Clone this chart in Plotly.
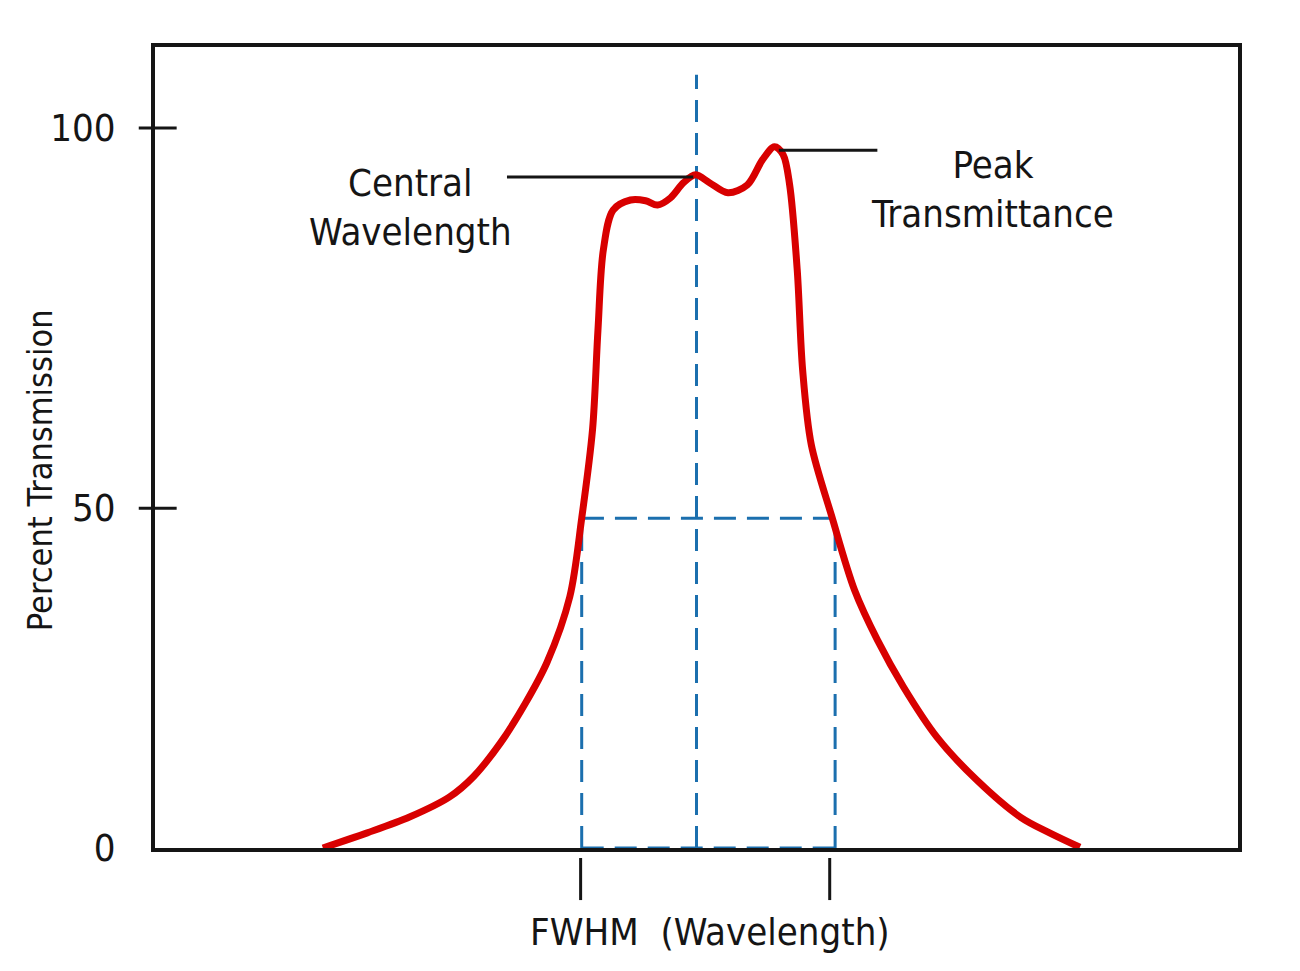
import plotly.graph_objects as go

# transmission curve (x: arbitrary wavelength units, y: percent)
wl = [15.5, 19.6, 23.5, 27.2, 29.4, 31.9, 34.2, 36.2, 38.3, 39.4, 40.4, 40.9, 41.4,
      42.3, 43.9, 45.3, 46.4, 47.6, 48.8, 49.9, 51.2, 52.9, 54.7, 56.1, 57.2, 58.0,
      58.6, 59.3, 59.8, 60.6, 62.5, 64.6, 66.7, 69.1, 72.2, 75.9, 79.9, 82.6, 85.4]
trans = [0.0, 2.1, 4.3, 7.1, 9.9, 14.6, 20.1, 25.8, 34.9, 45.8, 58.1, 71.9, 83.1,
         88.6, 90.0, 89.9, 89.3, 90.3, 92.4, 93.5, 92.4, 91.0, 92.1, 95.6, 97.4, 96.3,
         92.1, 80.3, 66.4, 56.0, 46.0, 35.8, 28.9, 22.4, 15.4, 9.4, 4.3, 2.1, 0.1]

fwhm_lo, fwhm_hi = 39.4, 62.8
half_max = 45.8
center_wl = 50.0
center_top = 107.4

y_ticks = [0, 47.2, 100]
y_ticktext = ["0", "50", "100"]

RED = "#d80000"
BLUE = "#1b6fae"
INK = "#151515"
FONT = "DejaVu Sans Condensed, Roboto, sans-serif"

dash = dict(color=BLUE, width=3, dash="22px,11px")

fig = go.Figure()

# FWHM box and central wavelength marker
fig.add_trace(go.Scatter(x=[fwhm_lo, fwhm_lo, fwhm_hi, fwhm_hi], y=[0, half_max, half_max, 0],
                         mode="lines", line=dash, hoverinfo="skip"))
fig.add_trace(go.Scatter(x=[fwhm_lo, fwhm_hi], y=[0, 0], mode="lines", line=dash, hoverinfo="skip"))
fig.add_trace(go.Scatter(x=[center_wl, center_wl], y=[0, center_top], mode="lines",
                         line=dash, hoverinfo="skip"))

fig.add_trace(go.Scatter(x=wl, y=trans, mode="lines",
                         line=dict(color=RED, width=7, shape="spline", smoothing=0.9),
                         hoverinfo="skip"))

# leader lines for the labels
fig.add_trace(go.Scatter(x=[32.5, 49.7], y=[93.2, 93.2], mode="lines",
                         line=dict(color=INK, width=3), hoverinfo="skip"))
fig.add_trace(go.Scatter(x=[57.6, 66.7], y=[96.9, 96.9], mode="lines",
                         line=dict(color=INK, width=3), hoverinfo="skip"))

txt = dict(family=FONT, size=38, color=INK)
fig.add_annotation(x=23.6, y=89.0, text="Central<br>Wavelength", showarrow=False,
                   font=txt, align="center")
fig.add_annotation(x=77.3, y=91.4, text="Peak<br>Transmittance", showarrow=False,
                   font=txt, align="center")
fig.add_annotation(x=51.2, y=-0.135, yref="paper", text="FWHM  (Wavelength)",
                   showarrow=False, font=txt)
fig.add_annotation(x=-0.106, y=0.472, xref="paper", yref="paper", text="Percent Transmission",
                   textangle=-90, showarrow=False, xanchor="center", yanchor="middle",
                   font=dict(family=FONT, size=34, color=INK))

# y tick marks crossing the axis
for v in y_ticks[1:]:
    fig.add_shape(type="line", xref="paper", yref="y", x0=-0.015, x1=0.02, y0=v, y1=v,
                  line=dict(color=INK, width=3))
# FWHM markers under the axis
for v in [39.3, 62.3]:
    fig.add_shape(type="line", xref="x", yref="paper", x0=v, x1=v, y0=-0.0125, y1=-0.065,
                  line=dict(color=INK, width=3))

fig.update_layout(
    width=1300, height=971,
    margin=dict(l=147, r=70, t=39, b=131),
    paper_bgcolor="white", plot_bgcolor="white",
    showlegend=False,
    xaxis=dict(range=[0, 100], showgrid=False, zeroline=False, showticklabels=False,
               ticks="", showline=True, mirror=True, linecolor=INK, linewidth=4,
               layer="below traces", automargin=False),
    yaxis=dict(range=[0, 111.25], showgrid=False, zeroline=False, tickvals=y_ticks,
               ticktext=y_ticktext, ticks="", ticklabelstandoff=28,
               tickfont=dict(family=FONT, size=38, color=INK),
               showline=True, mirror=True, linecolor=INK, linewidth=4,
               layer="below traces", automargin=False),
)

fig.write_html("out.html")
